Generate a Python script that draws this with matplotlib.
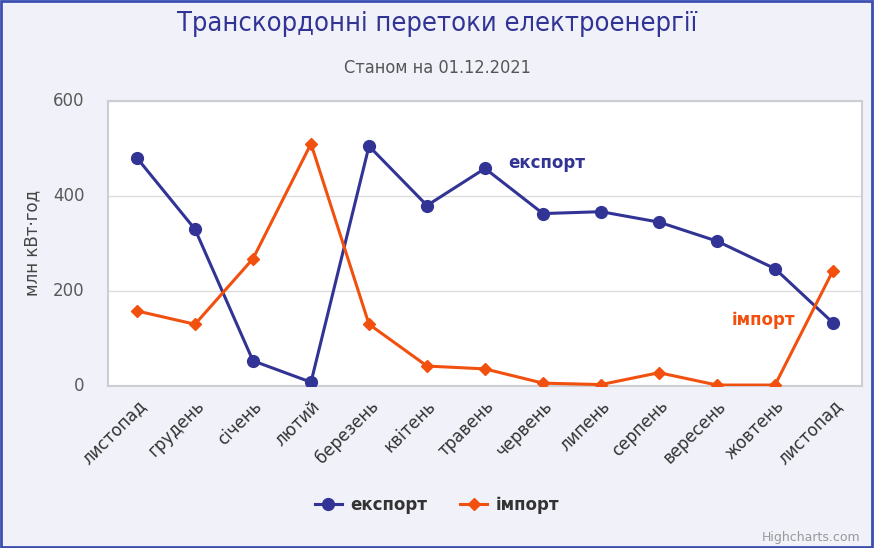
import numpy as np
import matplotlib.pyplot as plt
from matplotlib.patches import Rectangle

# --- datos ---
meses = ["листопад", "грудень", "січень", "лютий", "березень", "квітень", "травень",
         "червень", "липень", "серпень", "вересень", "жовтень", "листопад"]
eksport = [480, 330, 53, 8, 505, 380, 458, 363, 367, 345, 305, 247, 133]
import_ = [158, 130, 268, 510, 130, 42, 36, 6, 3, 28, 2, 2, 243]

AZUL = "#313494"
NARANJA = "#f2500f"
FONDO = "#f1f1fa"

plt.rcParams["font.family"] = ["DejaVu Sans"]

fig = plt.figure(figsize=(8.74, 5.48), dpi=100)
fig.patch.set_facecolor(FONDO)
ax = fig.add_axes([108 / 874, 1 - 386 / 548, (862 - 108) / 874, (386 - 101) / 548])
ax.set_facecolor("white")

x = np.arange(len(meses))
ax.plot(x, eksport, color=AZUL, lw=2.2, marker="o", ms=8.5, label="експорт", zorder=3)
ax.plot(x, import_, color=NARANJA, lw=2.2, marker="D", ms=6.5, label="імпорт", zorder=3)

ax.set_xlim(-0.5, len(meses) - 0.5)
ax.set_ylim(0, 600)
ax.set_yticks([0, 200, 400, 600])
ax.grid(axis="y", color="#dcdcdc", lw=1)
ax.set_axisbelow(True)
for s in ax.spines.values():
    s.set_color("#cdcdd2")
    s.set_linewidth(1.5)

ax.set_xticks(x)
ax.set_xticklabels(meses, rotation=45, ha="right", rotation_mode="anchor",
                   fontsize=12, color="#333333")
ax.tick_params(axis="x", length=0, pad=8)
ax.tick_params(axis="y", length=0, pad=17, labelsize=12, labelcolor="#5a5a5a")
for lbl in ax.get_yticklabels():
    lbl.set_verticalalignment("center")

fig.text(32 / 874, 1 - 243 / 548, "млн кВт·год", rotation=90, ha="center", va="center",
         fontsize=12, color="#444444")

fig.text(437 / 874, 1 - 24 / 548, "Транскордонні перетоки електроенергії", ha="center",
         va="center", fontsize=19.5, color=AZUL, fontstretch="condensed")
fig.text(437 / 874, 1 - 68 / 548, "Станом на 01.12.2021", ha="center", va="center",
         fontsize=13, color="#555555", fontstretch="condensed")

ax.text(6.4, 470, "експорт", color=AZUL, fontsize=12, fontweight="bold", va="center")
ax.text(10.25, 138, "імпорт", color=NARANJA, fontsize=12, fontweight="bold", va="center")

leg = fig.legend(loc="center", bbox_to_anchor=(437 / 874, 1 - 505 / 548), ncol=2,
                 frameon=False, fontsize=12, handlelength=1.6, columnspacing=2.0,
                 handletextpad=0.5)
for t in leg.get_texts():
    t.set_fontweight("bold")
    t.set_color("#333333")

fig.text(860 / 874, 1 - 537 / 548, "Highcharts.com", ha="right", va="center",
         fontsize=9, color="#999999")

fig.patches.append(Rectangle((0.001, 0.002), 0.997, 0.996, transform=fig.transFigure,
                             fill=False, edgecolor="#3c4fb0", lw=2))

fig.savefig("out.png", dpi=100, facecolor=FONDO)
